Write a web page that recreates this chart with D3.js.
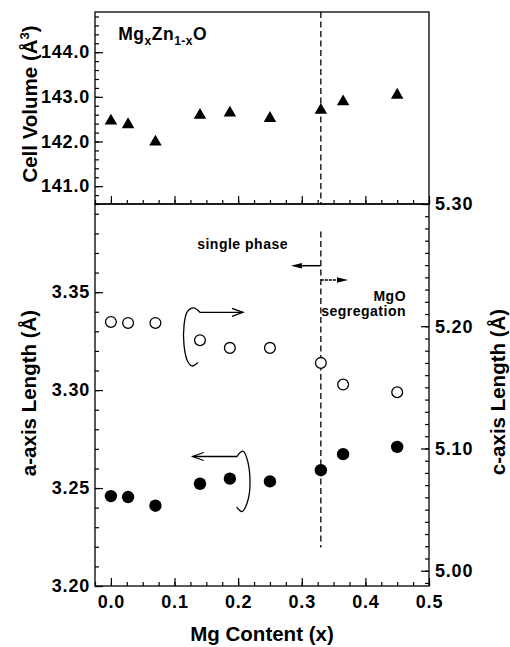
<!DOCTYPE html>
<html>
<head>
<meta charset="utf-8">
<script src="https://cdn.jsdelivr.net/npm/d3@7"></script>
<style>
  html, body { margin: 0; padding: 0; background: #fff; }
  svg { display: block; }
  .tick text { font-family: "Liberation Sans", Arial, Helvetica, sans-serif; font-weight: bold; font-size: 18px; letter-spacing: 0.8px; fill: #000; }
  .tick line { stroke: #000; stroke-width: 1.2; }
  .title { font-family: "Liberation Sans", Arial, Helvetica, sans-serif; font-weight: bold; font-size: 20.5px; fill: #000; }
  .ann { font-family: "Liberation Sans", Arial, Helvetica, sans-serif; font-weight: bold; font-size: 14px; letter-spacing: 0.5px; fill: #000; }
</style>
</head>
<body>
<svg id="chart" width="510" height="647"></svg>
<script>
// ---------------- data ----------------
const mgContent  = [0.0, 0.027, 0.07, 0.14, 0.187, 0.25, 0.33, 0.365, 0.45];
const cellVolume = [142.46, 142.38, 141.99, 142.59, 142.64, 142.52, 142.70, 142.89, 143.04];
const cAxisLen   = [5.2035, 5.2027, 5.2027, 5.1886, 5.1823, 5.1823, 5.170, 5.1523, 5.146];
const aAxisLen   = [3.2459, 3.2454, 3.241, 3.2522, 3.2548, 3.2534, 3.2591, 3.2673, 3.271];

const xTickValues   = [0.0, 0.1, 0.2, 0.3, 0.4, 0.5];
const volTickValues = [141.0, 142.0, 143.0, 144.0];
const aTickValues   = [3.20, 3.25, 3.30, 3.35];
const cTickValues   = [5.00, 5.10, 5.20, 5.30];

const phaseBoundary = 0.33;

// ---------------- layout ----------------
const L = 95, R = 429, T = 12, MID = 204, B = 586;
const svg = d3.select("#chart");

const x  = d3.scaleLinear().domain([-0.025, 0.5]).range([L, R]);
const yV = d3.scaleLinear().domain([140.6, 144.9]).range([MID, T]);
const yA = d3.scaleLinear().domain([3.20, 3.395]).range([B, MID]);
const yC = d3.scaleLinear().domain([4.9875, 5.30]).range([B, MID]);

const rng = (a, b, s) => d3.range(Math.round((b - a) / s) + 1).map(i => +(a + i * s).toFixed(4));

function drawAxis(gen, scale, pos, majors, minors, fmt, pad) {
  const g = svg.append("g").attr("transform", pos);
  g.append("g").call(gen(scale).tickValues(minors).tickSize(-4).tickSizeOuter(0).tickFormat(""))
    .call(s => s.select(".domain").remove());
  const m = g.append("g").call(gen(scale).tickValues(majors).tickSize(-8).tickSizeOuter(0)
    .tickPadding(pad).tickFormat(fmt ? d3.format(fmt) : ""));
  m.select(".domain").remove();
  return m;
}

// x axes
drawAxis(d3.axisBottom, x, `translate(0,${B})`, xTickValues, rng(-0.025, 0.5, 0.025), ".1f", 9);
drawAxis(d3.axisBottom, x, `translate(0,${MID})`, xTickValues, rng(-0.025, 0.5, 0.025), null, 0);
// left axes
drawAxis(d3.axisLeft, yV, `translate(${L},0)`, volTickValues, rng(140.6, 144.8, 0.2), ".1f", 5);
drawAxis(d3.axisLeft, yA, `translate(${L},0)`, aTickValues, rng(3.20, 3.39, 0.01), ".2f", 5);
// right axis
drawAxis(d3.axisRight, yC, `translate(${R},0)`, cTickValues, rng(4.99, 5.30, 0.01), ".2f", 6);

// frames
svg.append("rect").attr("x", L).attr("y", T).attr("width", R - L).attr("height", MID - T)
  .attr("fill", "none").attr("stroke", "#000").attr("stroke-width", 1.3);
svg.append("rect").attr("x", L).attr("y", MID).attr("width", R - L).attr("height", B - MID)
  .attr("fill", "none").attr("stroke", "#000").attr("stroke-width", 1.3);

// dashed boundary lines
svg.append("line").attr("x1", x(phaseBoundary)).attr("x2", x(phaseBoundary))
  .attr("y1", yV(144.9)).attr("y2", yV(140.6))
  .attr("stroke", "#000").attr("stroke-width", 1.3).attr("stroke-dasharray", "6,3.5");
svg.append("line").attr("x1", x(phaseBoundary)).attr("x2", x(phaseBoundary))
  .attr("y1", yA(3.381)).attr("y2", yA(3.2196))
  .attr("stroke", "#000").attr("stroke-width", 1.3).attr("stroke-dasharray", "6,3.5");

// ---------------- marks ----------------
const vol = mgContent.map((m, i) => ({ m, v: cellVolume[i] }));
const aa  = mgContent.map((m, i) => ({ m, v: aAxisLen[i] }));
const cc  = mgContent.map((m, i) => ({ m, v: cAxisLen[i] }));

svg.append("g").selectAll("path").data(vol).join("path")
  .attr("d", d3.symbol(d3.symbolTriangle, 68))
  .attr("transform", d => `translate(${x(d.m)},${yV(d.v)})`)
  .attr("fill", "#000");

svg.append("g").selectAll("circle").data(cc).join("circle")
  .attr("cx", d => x(d.m)).attr("cy", d => yC(d.v)).attr("r", 5.4)
  .attr("fill", "#fff").attr("stroke", "#000").attr("stroke-width", 1.3);

svg.append("g").selectAll("circle").data(aa).join("circle")
  .attr("cx", d => x(d.m)).attr("cy", d => yA(d.v)).attr("r", 6.2)
  .attr("fill", "#000");

// ---------------- annotations ----------------
const curl1 = [[0.2076, 5.2114], [0.1400, 5.2114], [0.1300, 5.2150], [0.1200, 5.2118], [0.1150, 5.2010],
               [0.1149, 5.1846], [0.1204, 5.1716], [0.1275, 5.1675], [0.1369, 5.1703]];
const curl2 = [[0.1286, 3.2661], [0.1982, 3.2661], [0.2040, 3.2684], [0.2080, 3.2688], [0.2139, 3.2650],
               [0.2186, 3.2541], [0.2155, 3.2439], [0.2061, 3.2380], [0.1977, 3.2403]];

const lineGen = d3.line().curve(d3.curveCatmullRom.alpha(0.5));
const c1 = curl1.map(p => [x(p[0]), yC(p[1])]);
const c2 = curl2.map(p => [x(p[0]), yA(p[1])]);
svg.append("path").attr("d", `M${c1[0][0]},${c1[0][1]}L${c1[1][0]},${c1[1][1]}` + lineGen(c1.slice(1)).replace(/^M/, "L"))
  .attr("fill", "none").attr("stroke", "#000").attr("stroke-width", 1.3);
svg.append("path").attr("d", `M${c2[0][0]},${c2[0][1]}L${c2[1][0]},${c2[1][1]}` + lineGen(c2.slice(1)).replace(/^M/, "L"))
  .attr("fill", "none").attr("stroke", "#000").attr("stroke-width", 1.3);
function openHead(tip, dir) {
  const [tx, ty] = tip;
  svg.append("path").attr("d", `M${tx - dir * 11},${ty - 4}L${tx},${ty}L${tx - dir * 11},${ty + 4}`)
    .attr("fill", "none").attr("stroke", "#000").attr("stroke-width", 1.3);
}
openHead(c1[0], 1);
openHead(c2[0], -1);

function solidArrow(x0, x1, yy, dashed) {
  const dir = Math.sign(x1 - x0);
  svg.append("line").attr("x1", x0).attr("x2", x1 - dir * 8).attr("y1", yy).attr("y2", yy)
    .attr("stroke", "#000").attr("stroke-width", 1.5).attr("stroke-dasharray", dashed ? "3,1" : null);
  svg.append("path").attr("d", `M${x1},${yy}L${x1 - dir * 11},${yy - 2.8}L${x1 - dir * 11},${yy + 2.8}Z`)
    .attr("fill", "#000");
}
solidArrow(x(phaseBoundary), x(0.283), yA(3.3635), false);
solidArrow(x(phaseBoundary), x(0.3727), yA(3.3562), true);

svg.append("text").attr("class", "ann").attr("x", x(0.207)).attr("y", yA(3.3718))
  .attr("text-anchor", "middle").text("single phase");
svg.append("text").attr("class", "ann").attr("x", x(0.4639)).attr("y", yA(3.3455))
  .attr("text-anchor", "end").text("MgO");
svg.append("text").attr("class", "ann").attr("x", x(0.4639)).attr("y", yA(3.3378))
  .attr("text-anchor", "end").text("segregation");

// formula label
const f = svg.append("text").attr("class", "ann").attr("x", x(0.0116)).attr("y", yV(144.27))
  .style("font-size", "17.5px");
f.append("tspan").text("Mg");
f.append("tspan").attr("dy", 5).style("font-size", "12px").text("x");
f.append("tspan").attr("dy", -5).text("Zn");
f.append("tspan").attr("dy", 5).style("font-size", "12px").text("1-x");
f.append("tspan").attr("dy", -5).text("O");

// axis titles
svg.append("text").attr("class", "title").attr("x", (L + R) / 2).attr("y", 641)
  .attr("text-anchor", "middle").text("Mg Content (x)");
const tv = svg.append("text").attr("class", "title").attr("text-anchor", "middle")
  .attr("transform", `translate(36.5,${(T + MID) / 2 - 4}) rotate(-90)`);
tv.append("tspan").text("Cell Volume (Å");
tv.append("tspan").attr("dy", -8).style("font-size", "13px").text("3");
tv.append("tspan").attr("dy", 8).text(")");
svg.append("text").attr("class", "title").attr("text-anchor", "middle")
  .attr("transform", `translate(36,393) rotate(-90)`).text("a-axis Length (Å)");
svg.append("text").attr("class", "title").attr("text-anchor", "middle")
  .attr("transform", `translate(505,392) rotate(-90)`).text("c-axis Length (Å)");
</script>
</body>
</html>
